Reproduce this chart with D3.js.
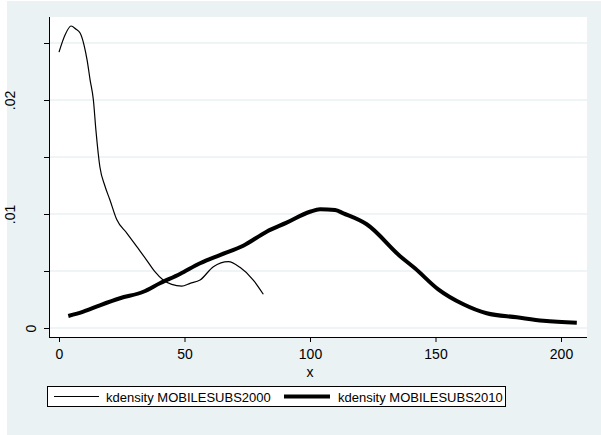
<!DOCTYPE html>
<html><head><meta charset="utf-8">
<script src="https://cdn.jsdelivr.net/npm/d3@7"></script>
<style>body{margin:0;background:#fff}svg{display:block}</style>
</head><body>
<script>
// Kernel density estimates
const x2000 = [0, 2.4, 4.8, 6.8, 8.4, 10, 11.2, 12.4, 13.7, 14.7, 16.3, 18.3, 20.3, 23, 27, 31, 34.9, 38.2, 41.5, 44.9, 48.9, 52.2, 56.2, 61.5, 67.5, 72.1, 77.4, 81.4];
const y2000 = [0.0242, 0.0257, 0.02649, 0.0262, 0.02588, 0.0248, 0.0235, 0.02175, 0.0200, 0.01737, 0.01412, 0.01246, 0.01123, 0.00951, 0.00833, 0.00713, 0.00596, 0.00494, 0.00421, 0.00383, 0.00368, 0.00392, 0.00421, 0.00538, 0.00582, 0.00532, 0.00421, 0.00296];
const x2010 = [3.7, 9.7, 16.3, 24.3, 33.6, 40.2, 48.2, 56.2, 64.1, 73.4, 82.7, 90.7, 100, 104, 110, 113.3, 122.6, 135.9, 141.8, 151.1, 161.1, 170.4, 182.4, 193, 206.3];
const y2010 = [0.00105, 0.00143, 0.00199, 0.00261, 0.00318, 0.00392, 0.00474, 0.00568, 0.0064, 0.00722, 0.00845, 0.00924, 0.0102, 0.01041, 0.01035, 0.01006, 0.0091, 0.0063, 0.00524, 0.00339, 0.00208, 0.00129, 0.00094, 0.00064, 0.00046];
const xTicks = [0, 50, 100, 150, 200];
const yTicks = [0, 0.005, 0.01, 0.015, 0.02, 0.025];
const yLabels = ["0", "", ".01", "", ".02", ""];
const seriesNames = ["kdensity MOBILESUBS2000", "kdensity MOBILESUBS2010"];

const W = 601, H = 435;
const bg = "#eaf2f3";
const svg = d3.select("body").append("svg").attr("width", W).attr("height", H);
svg.append("rect").attr("x", 7).attr("y", 1).attr("width", W - 7).attr("height", H - 1).attr("fill", bg);

const pl = 49, pr = 587, pt = 17, pb = 337;
svg.append("rect").attr("x", pl).attr("y", pt).attr("width", pr - pl).attr("height", pb - pt).attr("fill", "#fff");

const x = d3.scaleLinear().domain([0, 200]).range([59, 561]);
const y = d3.scaleLinear().domain([0, 0.01]).range([328, 214]);

// gridlines
svg.append("g").selectAll("line").data(yTicks).join("line")
  .attr("x1", pl).attr("x2", pr).attr("y1", d => y(d)).attr("y2", d => y(d))
  .attr("stroke", bg).attr("stroke-width", 1.5);

const font = "'Liberation Sans', Arial, sans-serif";

// y axis
const ya = svg.append("g").attr("transform", `translate(${pl},0)`)
  .call(d3.axisLeft(y).tickValues(yTicks).tickSize(5).tickSizeOuter(0).tickFormat((d, i) => yLabels[i]));
ya.select(".domain").attr("d", `M0.5,${pt}V${pb}`).attr("stroke", "#000");
ya.selectAll(".tick line").attr("stroke", "#000");
ya.selectAll(".tick text").attr("transform", "rotate(-90)").attr("x", 0)
  .attr("y", function () { return this.textContent.length > 1 ? -34 : -13; })
  .attr("dy", 0).attr("text-anchor", "middle").attr("font-family", font).attr("font-size", 14).attr("fill", "#000");

// x axis
const xa = svg.append("g").attr("transform", `translate(0,${pb})`)
  .call(d3.axisBottom(x).tickValues(xTicks).tickSize(5).tickSizeOuter(0).tickFormat(d3.format("d")));
xa.select(".domain").attr("d", `M${pl},0.5H${pr}`).attr("stroke", "#000");
xa.selectAll(".tick line").attr("stroke", "#000");
xa.selectAll(".tick text").attr("y", 12).attr("dy", "0.71em").attr("font-family", font).attr("font-size", 14).attr("fill", "#000");

svg.append("text").attr("x", x(100)).attr("y", 377).attr("text-anchor", "middle")
  .attr("font-family", font).attr("font-size", 14).text("x");

const line = d3.line().x(d => x(d[0])).y(d => y(d[1])).curve(d3.curveMonotoneX);
svg.append("path").datum(d3.zip(x2000, y2000)).attr("d", line)
  .attr("fill", "none").attr("stroke", "#000").attr("stroke-width", 1.2);
svg.append("path").datum(d3.zip(x2010, y2010)).attr("d", line)
  .attr("fill", "none").attr("stroke", "#000").attr("stroke-width", 4);

// legend
const lg = svg.append("g");
lg.append("rect").attr("x", 47.5).attr("y", 386.5).attr("width", 458).attr("height", 20)
  .attr("fill", "#fff").attr("stroke", "#000").attr("stroke-width", 1);
const items = [{x1: 54, x2: 99, tx: 106, w: 1.2}, {x1: 284, x2: 330, tx: 338, w: 4}];
items.forEach((it, i) => {
  lg.append("line").attr("x1", it.x1).attr("x2", it.x2).attr("y1", 396.5).attr("y2", 396.5)
    .attr("stroke", "#000").attr("stroke-width", it.w);
  lg.append("text").attr("x", it.tx).attr("y", 401.5).attr("font-family", font).attr("font-size", 13)
    .text(seriesNames[i]);
});
</script>
</body></html>
